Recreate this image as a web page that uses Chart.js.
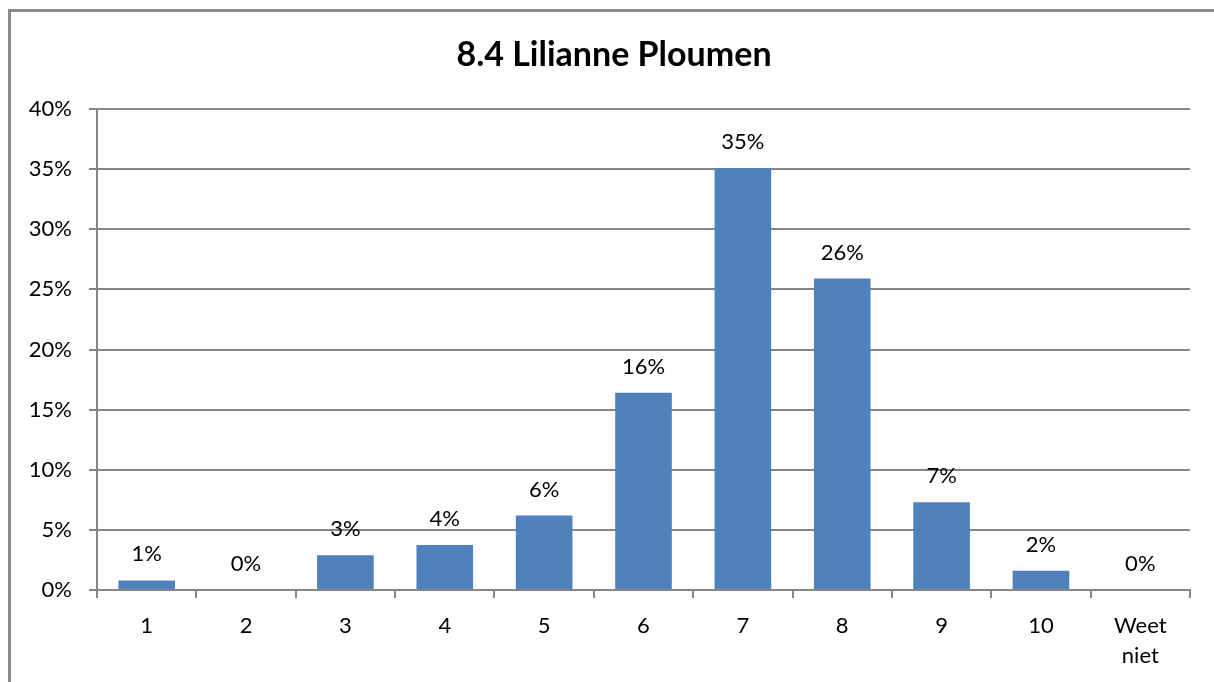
<!DOCTYPE html>
<html>
<head>
<meta charset="utf-8">
<script src="https://cdn.jsdelivr.net/npm/chart.js@4/dist/chart.umd.min.js"></script>
<style>
html, body { margin: 0; padding: 0; background: #fff; overflow: hidden; }
#frame {
  position: absolute; left: 8px; top: 9px; width: 1300px; height: 800px;
  border-left: 3px solid #8a8a8a; border-top: 3px solid #8a8a8a;
}
#wrap { position: absolute; left: 0; top: 0; width: 1214px; height: 682px; }
</style>
</head>
<body>
<div id="frame"></div>
<div id="wrap"><canvas id="chart"></canvas></div>
<script>
const titleText = "8.4 Lilianne Ploumen";
const categories = ["1", "2", "3", "4", "5", "6", "7", "8", "9", "10", ["Weet", "niet"]];
const percentages = [0.8, 0, 2.9, 3.75, 6.2, 16.4, 35.1, 25.9, 7.3, 1.6, 0];
const yTicks = [0, 5, 10, 15, 20, 25, 30, 35, 40];

const FONT = "Lato, 'Open Sans', sans-serif";
const GRID = "#868686";

// labels above each bar ("16%" etc.) and the title, centred like the original
const barLabels = {
  id: "barLabels",
  afterDatasetsDraw(chart) {
    const ctx = chart.ctx;
    const meta = chart.getDatasetMeta(0);
    ctx.save();
    ctx.font = "22px " + FONT;
    ctx.fillStyle = "#000";
    ctx.textAlign = "center";
    ctx.textBaseline = "middle";
    meta.data.forEach((bar, i) => {
      ctx.fillText(Math.round(percentages[i]) + "%", bar.x, bar.y - 26);
    });
    ctx.font = "bold 34px " + FONT;
    ctx.fillText(titleText, 614, 55);
    ctx.restore();
  }
};

const ctx = document.getElementById("chart");
new Chart(ctx, {
  type: "bar",
  data: {
    labels: categories,
    datasets: [{
      data: percentages,
      backgroundColor: "#4F81BD",
      borderWidth: 0,
      barPercentage: 0.57,
      categoryPercentage: 1
    }]
  },
  options: {
    responsive: true,
    maintainAspectRatio: false,
    animation: false,
    layout: { padding: { left: 10, right: 24, top: 109, bottom: 0 } },
    plugins: {
      legend: { display: false },
      tooltip: { enabled: false },
      title: { display: false }
    },
    scales: {
      x: {
        offset: true,
        grid: {
          offset: true,
          drawOnChartArea: false,
          color: GRID,
          lineWidth: 2,
          tickLength: 8
        },
        border: { color: GRID, width: 2 },
        ticks: {
          color: "#000",
          padding: 13,
          font: { family: FONT, size: 22, lineHeight: 1.36 },
          maxRotation: 0,
          autoSkip: false
        },
        afterFit: (s) => { s.height = 92; }
      },
      y: {
        min: 0,
        max: 40,
        afterBuildTicks: (s) => { s.ticks = yTicks.map(v => ({ value: v })); },
        grid: { color: GRID, lineWidth: 2, tickLength: 8 },
        border: { color: GRID, width: 2 },
        ticks: {
          color: "#000",
          padding: 17,
          font: { family: FONT, size: 22 },
          callback: (v) => v + "%"
        },
        afterFit: (s) => { s.width = 87; }
      }
    }
  },
  plugins: [barLabels]
});
</script>
</body>
</html>
